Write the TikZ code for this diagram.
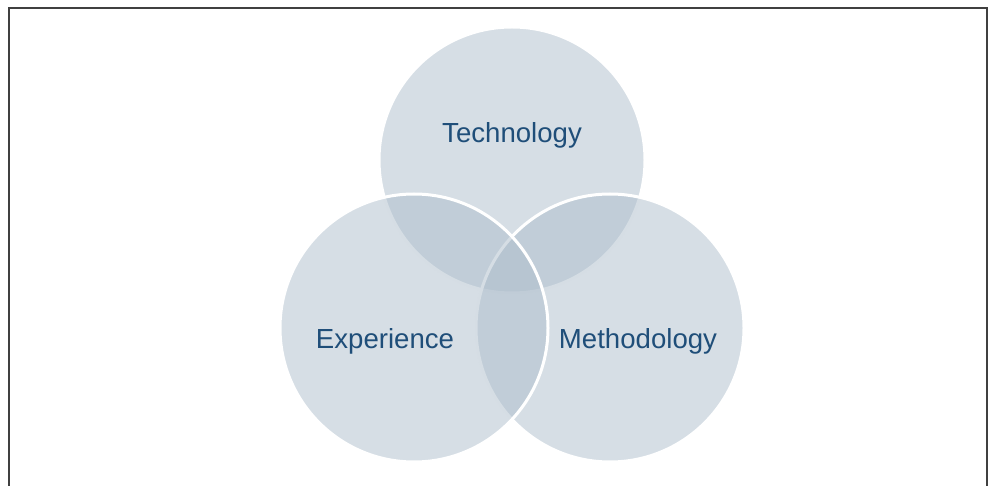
\documentclass[tikz,border=0pt]{standalone}
\usepackage{fontspec}
\setmainfont{Liberation Sans}
\definecolor{circfill}{RGB}{173,189,203}
\definecolor{labelblue}{RGB}{31,78,121}
\definecolor{framegray}{RGB}{64,64,64}
\tikzset{
  venn/.style={circle, minimum size=268pt, inner sep=0pt, fill=circfill, fill opacity=0.5, draw=white, line width=3pt},
  lbl/.style={text=labelblue, font=\fontsize{27.6}{32}\selectfont, inner sep=0pt, anchor=base},
  frameline/.style={draw=framegray, line width=2pt}
}
\begin{document}
\begin{tikzpicture}[x=1pt,y=-1pt]
\useasboundingbox (0,0) rectangle (994,486);
\coordinate (fbl) at (9,490);
\coordinate (ftl) at (9,8);
\coordinate (ftr) at (987,8);
\coordinate (fbr) at (987,490);
\draw[frameline] (fbl) -- (ftl) -- (ftr) -- (fbr);
\node[venn, minimum size=266pt] (tech) at (512,160) {};
\node[venn] (meth) at (610,328) {};
\node[venn] (exp) at (414,328) {};
\node[lbl] (ttech) at (512,143) {Technology};
\node[lbl] (texp) at (385,349) {Experience};
\node[lbl] (tmeth) at (638,349) {Methodology};
\end{tikzpicture}
\end{document}
